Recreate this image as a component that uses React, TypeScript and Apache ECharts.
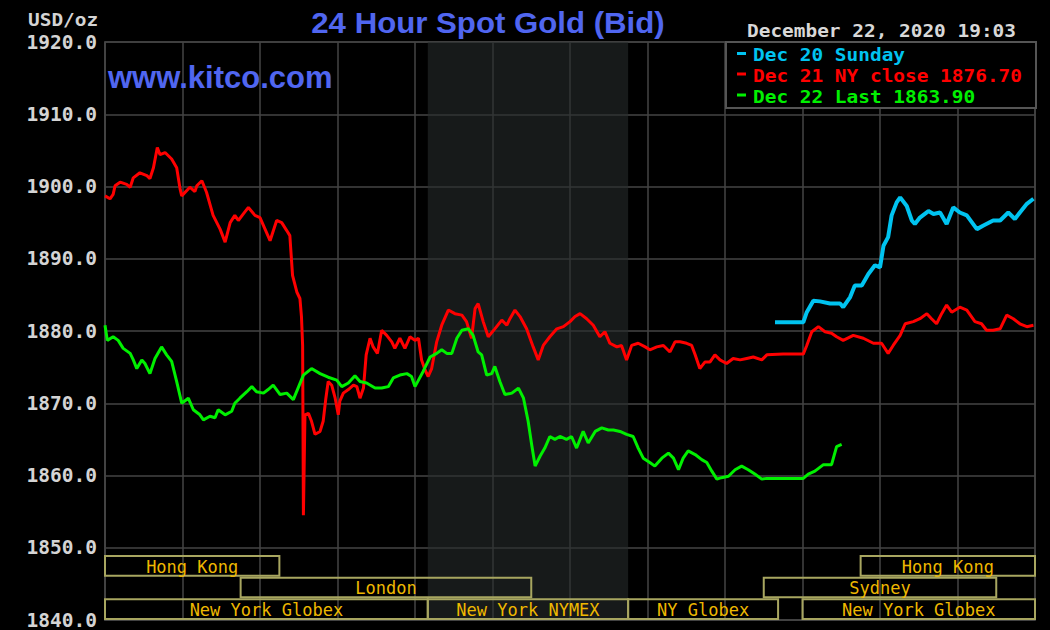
import React, { useEffect, useRef } from "react";
import * as echarts from "echarts";

// ---- Data (x = hours of the day, y = USD/oz) ----
const redHours = [0.00,0.13,0.21,0.26,0.39,0.56,0.65,0.73,0.90,1.08,1.16,1.25,1.35,1.42,1.55,1.72,1.85,1.94,1.98,2.19,2.32,2.37,2.50,2.62,2.79,2.97,3.10,3.23,3.35,3.44,3.57,3.70,3.87,4.00,4.13,4.26,4.43,4.56,4.69,4.77,4.84,4.95,5.03,5.07,5.10,5.12,5.16,5.25,5.33,5.42,5.55,5.63,5.70,5.76,5.85,5.94,6.02,6.06,6.15,6.28,6.41,6.50,6.58,6.67,6.74,6.84,6.92,7.03,7.14,7.27,7.40,7.48,7.61,7.74,7.87,8.00,8.09,8.17,8.26,8.34,8.43,8.56,8.69,8.86,9.03,9.21,9.33,9.46,9.55,9.63,9.76,9.89,10.06,10.24,10.37,10.45,10.58,10.71,10.88,11.05,11.18,11.31,11.48,11.66,11.83,12.00,12.13,12.26,12.43,12.60,12.77,12.90,13.03,13.21,13.33,13.46,13.59,13.76,13.94,14.06,14.24,14.41,14.58,14.71,14.84,15.01,15.14,15.23,15.35,15.48,15.61,15.74,15.87,16.04,16.21,16.39,16.56,16.73,16.95,17.08,17.50,18.02,18.11,18.24,18.41,18.58,18.75,18.88,19.05,19.31,19.57,19.83,20.04,20.21,20.34,20.52,20.65,20.86,21.03,21.21,21.33,21.46,21.59,21.72,21.85,22.06,22.24,22.45,22.62,22.75,22.92,23.10,23.27,23.44,23.61,23.79,23.96];
const redValues = [1898.7,1898.3,1898.9,1900.1,1900.6,1900.3,1899.9,1901.2,1901.9,1901.5,1901.1,1902.6,1905.4,1904.4,1904.7,1903.8,1902.6,1899.6,1898.7,1899.9,1899.3,1900.1,1900.8,1899.2,1896.0,1894.1,1892.3,1895.0,1896.0,1895.3,1896.2,1897.1,1896.0,1895.7,1894.1,1892.5,1895.3,1895.0,1893.9,1893.2,1887.7,1885.4,1884.5,1882.0,1878.0,1854.5,1868.4,1868.6,1867.5,1865.7,1866.1,1867.5,1870.7,1873.0,1872.5,1870.7,1868.4,1870.3,1871.4,1871.9,1872.5,1872.3,1870.7,1872.1,1876.7,1879.0,1877.8,1876.9,1880.1,1879.4,1878.5,1877.6,1879.0,1877.6,1879.2,1878.7,1879.0,1876.0,1874.6,1873.7,1874.8,1878.5,1880.8,1882.9,1882.4,1882.2,1881.3,1879.0,1883.1,1883.8,1881.3,1879.2,1880.3,1881.5,1880.8,1881.7,1882.9,1882.0,1880.3,1877.8,1876.0,1878.0,1879.2,1880.3,1880.6,1881.3,1882.0,1882.4,1881.7,1880.8,1879.2,1879.9,1878.3,1877.8,1878.0,1876.0,1878.0,1878.3,1877.8,1877.4,1877.8,1878.0,1877.1,1878.5,1878.5,1878.3,1878.0,1876.7,1874.8,1875.7,1875.7,1876.7,1876.0,1875.5,1876.2,1876.0,1876.2,1876.4,1876.0,1876.7,1876.8,1876.8,1878.0,1879.9,1880.6,1879.9,1879.7,1879.2,1878.7,1879.4,1879.0,1878.3,1878.3,1876.9,1878.0,1879.4,1881.0,1881.3,1881.7,1882.4,1881.7,1881.0,1882.4,1883.6,1882.6,1883.3,1882.9,1881.3,1881.0,1880.1,1880.1,1880.3,1882.2,1881.7,1881.0,1880.6,1880.8];

const greenHours = [0.00,0.06,0.21,0.34,0.47,0.65,0.73,0.82,0.95,1.03,1.16,1.29,1.46,1.59,1.72,1.85,1.98,2.15,2.28,2.45,2.54,2.71,2.84,2.92,3.10,3.27,3.35,3.48,3.66,3.79,3.91,4.09,4.21,4.34,4.52,4.69,4.86,4.99,5.12,5.33,5.55,5.76,5.98,6.11,6.28,6.45,6.58,6.75,6.97,7.14,7.31,7.44,7.61,7.79,7.91,8.00,8.09,8.21,8.39,8.56,8.69,8.82,8.95,9.08,9.21,9.38,9.50,9.63,9.72,9.85,9.98,10.06,10.19,10.32,10.50,10.67,10.80,10.92,11.01,11.10,11.23,11.35,11.48,11.61,11.74,11.91,12.04,12.17,12.34,12.47,12.65,12.82,12.99,13.12,13.29,13.46,13.63,13.76,13.89,14.06,14.19,14.37,14.54,14.67,14.80,14.92,15.05,15.23,15.40,15.53,15.66,15.79,15.91,16.09,16.26,16.43,16.60,16.77,16.95,17.08,18.02,18.15,18.32,18.54,18.75,18.88,19.01];
const greenValues = [1880.8,1878.7,1879.2,1878.7,1877.6,1876.9,1876.0,1874.8,1876.0,1875.5,1874.1,1876.2,1877.8,1876.7,1875.8,1873.0,1870.0,1870.7,1869.1,1868.4,1867.7,1868.2,1868.0,1869.1,1868.4,1868.9,1870.0,1870.7,1871.6,1872.3,1871.6,1871.4,1871.9,1872.5,1871.2,1871.4,1870.5,1872.2,1873.9,1874.8,1874.1,1873.6,1873.2,1872.3,1872.8,1873.8,1873.0,1872.8,1872.1,1872.1,1872.3,1873.5,1873.9,1874.1,1873.7,1872.3,1873.2,1874.4,1876.4,1876.9,1877.4,1876.9,1876.9,1879.0,1880.1,1880.3,1879.4,1877.1,1876.7,1873.9,1874.1,1875.1,1873.0,1871.2,1871.4,1872.1,1870.7,1867.5,1864.3,1861.3,1862.7,1863.8,1865.4,1865.0,1865.4,1865.0,1865.4,1863.8,1866.1,1864.5,1866.1,1866.6,1866.3,1866.3,1866.1,1865.7,1865.4,1863.8,1862.4,1861.8,1861.3,1862.4,1863.1,1862.4,1860.8,1862.4,1863.4,1862.9,1862.2,1861.8,1860.6,1859.5,1859.7,1859.9,1860.8,1861.3,1860.8,1860.2,1859.5,1859.6,1859.6,1860.2,1860.6,1861.5,1861.5,1864.0,1864.3];

const cyanHours = [17.29,18.02,18.11,18.28,18.45,18.71,18.97,19.05,19.23,19.35,19.53,19.70,19.87,20.00,20.09,20.21,20.30,20.43,20.52,20.69,20.82,20.90,21.03,21.25,21.38,21.55,21.72,21.89,22.06,22.24,22.50,22.67,22.92,23.10,23.31,23.48,23.61,23.79,23.96];
const cyanValues = [1881.2,1881.2,1882.6,1884.2,1884.1,1883.8,1883.8,1883.3,1884.7,1886.3,1886.3,1887.9,1889.1,1888.8,1891.8,1893.0,1896.0,1897.8,1898.5,1897.3,1895.3,1894.8,1895.7,1896.6,1896.2,1896.4,1894.8,1897.1,1896.4,1896.0,1894.1,1894.6,1895.3,1895.3,1896.4,1895.5,1896.4,1897.6,1898.3];

// NYMEX pit session (shaded)
const nymexStart = 8.33;
const nymexEnd = 13.5;

// Market sessions (bottom boxes)
const sessionNames = ["Hong Kong", "London", "New York Globex", "New York NYMEX", "NY Globex", "Hong Kong", "Sydney", "New York Globex"];
const sessionStart = [0, 3.5, 0, 8.33, 13.5, 19.5, 17.0, 18.0];
const sessionEnd = [4.5, 11.0, 8.33, 13.5, 17.37, 24, 23.0, 24];
const sessionRow = [0, 1, 2, 2, 2, 0, 1, 2];
const sessionRowTop = [1849, 1846, 1843];
const sessionRowBottom = [1846, 1843, 1840];

const yMin = 1840;
const yMax = 1920;
const yStep = 10;

const legendTexts = ["Dec 20 Sunday", "Dec 21 NY close 1876.70", "Dec 22 Last 1863.90"];
const titleText = "24 Hour Spot Gold (Bid)";
const stampText = "December 22, 2020 19:03";

const zip = (xs: number[], ys: number[]) => xs.map((x, i) => [x, ys[i]]);

const MONO = '"DejaVu Sans Mono", "Liberation Mono", monospace';
const SANS = '"Liberation Sans", Arial, sans-serif';
const RED = "#ff0000";
const GREEN = "#00f000";
const CYAN = "#00c3f0";
const GRID = "#444444";

export default function App() {
  const ref = useRef<HTMLDivElement>(null);

  useEffect(() => {
    if (!ref.current) return;
    const chart = echarts.init(ref.current, undefined, { renderer: "svg" });
    const legendColors = [CYAN, RED, GREEN];
    const legendY = [54.5, 75, 96];
    const monoText = (text: string, x: number, y: number, fill: string) => ({
      type: "text",
      z: 100,
      x,
      y,
      scaleX: 1.08,
      style: { text, x: 0, y: 0, verticalAlign: "middle", fill, font: `bold 18px ${MONO}` },
    });

    const option: any = {
      animation: false,
      backgroundColor: "#000000",
      grid: { left: 105, right: 15, top: 42, bottom: 7, show: true, borderColor: GRID, borderWidth: 1.5, backgroundColor: "transparent" },
      xAxis: {
        type: "value",
        min: 0,
        max: 24,
        interval: 2,
        axisLabel: { show: false },
        axisTick: { show: false },
        axisLine: { show: true, lineStyle: { color: GRID, width: 1.5 } },
        splitLine: { show: true, lineStyle: { color: GRID, width: 1.5 } },
      },
      yAxis: {
        type: "value",
        min: yMin,
        max: yMax,
        interval: yStep,
        axisTick: { show: false },
        axisLine: { show: true, lineStyle: { color: GRID, width: 1.5 } },
        splitLine: { show: true, lineStyle: { color: GRID, width: 1.5 } },
        axisLabel: {
          color: "#d4d4d4",
          fontFamily: MONO,
          fontWeight: "bold",
          fontSize: 19.5,
          margin: 8,
          formatter: (v: number) => v.toFixed(1),
        },
      },
      series: [
        {
          type: "line",
          name: "nymex",
          data: [],
          silent: true,
          markArea: {
            silent: true,
            z: 1,
            itemStyle: { color: "rgba(38,44,44,0.6)" },
            data: [[{ xAxis: nymexStart }, { xAxis: nymexEnd }]],
          },
        },
        {
          type: "custom",
          name: "sessions",
          silent: true,
          z: 3,
          data: sessionStart.map((s, i) => [s, sessionEnd[i], sessionRow[i]]),
          encode: { x: [0, 1], y: 2 },
          renderItem: (params: any, api: any) => {
            const i = params.dataIndex;
            const row = api.value(2);
            const p1 = api.coord([api.value(0), sessionRowTop[row]]);
            const p2 = api.coord([api.value(1), sessionRowBottom[row]]);
            const x0 = p1[0];
            const x1 = p2[0];
            const y0 = p1[1] + 1;
            const y1 = p2[1] - 1;
            return {
              type: "group",
              children: [
                {
                  type: "rect",
                  shape: { x: x0, y: y0, width: x1 - x0, height: y1 - y0 },
                  style: { fill: "none", stroke: "#a8a660", lineWidth: 2 },
                },
                {
                  type: "text",
                  style: {
                    text: sessionNames[i],
                    x: (x0 + x1) / 2,
                    y: (y0 + y1) / 2 + 1,
                    align: "center",
                    verticalAlign: "middle",
                    fill: "#eeb800",
                    font: `17px ${MONO}`,
                  },
                },
              ],
            };
          },
        },
        {
          type: "line",
          name: legendTexts[1],
          data: zip(redHours, redValues),
          showSymbol: false,
          symbol: "none",
          z: 4,
          lineStyle: { color: RED, width: 3 },
        },
        {
          type: "line",
          name: legendTexts[2],
          data: zip(greenHours, greenValues),
          showSymbol: false,
          symbol: "none",
          z: 5,
          lineStyle: { color: GREEN, width: 3 },
        },
        {
          type: "line",
          name: legendTexts[0],
          data: zip(cyanHours, cyanValues),
          showSymbol: false,
          symbol: "none",
          z: 6,
          lineStyle: { color: CYAN, width: 4 },
        },
      ],
      graphic: [
        monoText("USD/oz", 28, 19.5, "#d4d4d4"),
        { type: "text", z: 100, x: 488, y: 22.5, scaleX: 1.04, style: { text: titleText, x: 0, y: 0, align: "center", verticalAlign: "middle", fill: "#5066f0", font: `bold 30px ${SANS}` } },
        monoText(stampText, 747, 30.5, "#d8d8d8"),
        { type: "text", z: 100, style: { text: "www.kitco.com", x: 108, y: 77, verticalAlign: "middle", fill: "#5066f0", font: `bold 31px ${SANS}` } },
        { type: "rect", z: 90, shape: { x: 726, y: 42, width: 310, height: 66 }, style: { fill: "#000000", stroke: "#555555", lineWidth: 2 } },
        ...legendTexts.flatMap((t, i) => [
          { type: "rect", z: 100, shape: { x: 737, y: legendY[i] - 2.5, width: 9, height: 3 }, style: { fill: legendColors[i] } },
          monoText(t, 753, legendY[i] + 0.5, legendColors[i]),
        ]),
      ],
    };

    chart.setOption(option);
    return () => chart.dispose();
  }, []);

  return (
    <div
      ref={ref}
      style={{ position: "absolute", left: 0, top: 0, width: 1050, height: 630, background: "#000" }}
    />
  );
}
